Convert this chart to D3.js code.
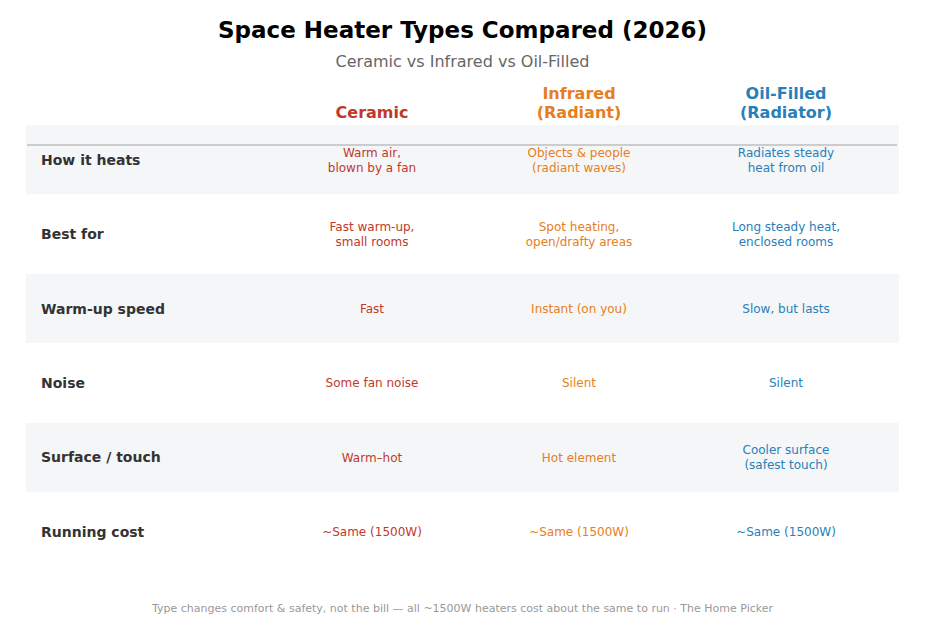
<!DOCTYPE html>
<html><head><meta charset="utf-8">
<script src="https://cdn.jsdelivr.net/npm/d3@7"></script>
<style>body{margin:0;background:#fff;font-family:"DejaVu Sans",sans-serif}</style>
</head><body><svg id="chart" width="925" height="631"></svg>
<script>
const columns = [["Ceramic"], ["Infrared", "(Radiant)"], ["Oil-Filled", "(Radiator)"]];
const columnColors = ["#c0392b", "#e67e22", "#2980b9"];
const rowLabels = ["How it heats", "Best for", "Warm-up speed", "Noise", "Surface / touch", "Running cost"];
const ceramicCells = [["Warm air,", "blown by a fan"], ["Fast warm-up,", "small rooms"], ["Fast"], ["Some fan noise"], ["Warm–hot"], ["~Same (1500W)"]];
const infraredCells = [["Objects & people", "(radiant waves)"], ["Spot heating,", "open/drafty areas"], ["Instant (on you)"], ["Silent"], ["Hot element"], ["~Same (1500W)"]];
const oilCells = [["Radiates steady", "heat from oil"], ["Long steady heat,", "enclosed rooms"], ["Slow, but lasts"], ["Silent"], ["Cooler surface", "(safest touch)"], ["~Same (1500W)"]];
const cells = [ceramicCells, infraredCells, oilCells];

const svg = d3.select("#chart");
const x = d3.scalePoint().domain(d3.range(columns.length)).range([372, 786]);
const y = d3.scaleBand().domain(rowLabels).range([122.5, 569]).paddingInner(0);

svg.append("text").attr("x", 462.5).attr("y", 38).attr("text-anchor", "middle")
  .style("font-size", "23px").style("font-weight", "bold").text("Space Heater Types Compared (2026)");
svg.append("text").attr("x", 462.5).attr("y", 67).attr("text-anchor", "middle")
  .style("font-size", "16px").style("fill", "#666").text("Ceramic vs Infrared vs Oil-Filled");

// shaded bands
svg.selectAll("rect.band").data(rowLabels.filter((d, i) => i % 2 === 0)).enter()
  .append("rect").attr("x", 26).attr("width", 873)
  .attr("y", d => y(d) + y.bandwidth() / 2 - 34.5).attr("height", 69)
  .style("fill", "#f5f6f8");

svg.append("line").attr("x1", 27).attr("x2", 897).attr("y1", 145).attr("y2", 145)
  .style("stroke", "#ccc").style("stroke-width", 2);

columns.forEach((lines, i) => {
  const t = svg.append("text").attr("text-anchor", "middle").style("font-size", "16px")
    .style("font-weight", "bold").style("fill", columnColors[i]);
  const base = 118 - (lines.length - 1) * 19;
  lines.forEach((l, j) => t.append("tspan").attr("x", x(i)).attr("y", base + j * 19).text(l));
});

rowLabels.forEach((r, ri) => {
  const cy = y(r) + y.bandwidth() / 2;
  svg.append("text").attr("x", 41).attr("y", cy + 5).style("font-size", "14px")
    .style("font-weight", "bold").style("fill", "#333").text(r);
  cells.forEach((col, ci) => {
    const lines = col[ri];
    const t = svg.append("text").attr("text-anchor", "middle").style("font-size", "12px").style("fill", columnColors[ci]);
    const base = cy + 4.5 - (lines.length - 1) * 7.5;
    lines.forEach((l, j) => t.append("tspan").attr("x", x(ci)).attr("y", base + j * 15).text(l));
  });
});

svg.append("text").attr("x", 462.5).attr("y", 612).attr("text-anchor", "middle")
  .style("font-size", "11px").style("fill", "#999")
  .text("Type changes comfort & safety, not the bill — all ~1500W heaters cost about the same to run  ·  The Home Picker");
</script></body></html>
